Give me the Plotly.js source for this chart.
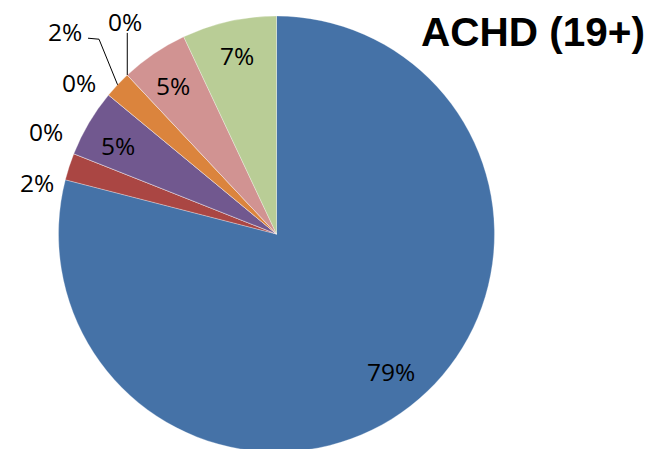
<!DOCTYPE html>
<html>
<head>
<meta charset="utf-8">
<script src="https://cdn.plot.ly/plotly-3.0.1.min.js"></script>
<style>
  html, body { margin: 0; padding: 0; overflow: hidden; background: #fff; }
  #chart { width: 657px; height: 470px; }
</style>
</head>
<body>
<div id="chart"></div>
<script>
// Share of patients per group, clockwise from 12 o'clock
const categories = ['Group 1', 'Group 2', 'Group 3', 'Group 4', 'Group 5',
                    'Group 6', 'Group 7', 'Group 8', 'Group 9'];
const shares = [79, 2, 0, 5, 0, 2, 0, 5, 7];
const sliceColors = ['#4572A7', '#AA4643', '#89A54E', '#71588F', '#4198AF',
                     '#DB843D', '#93A9CF', '#D19392', '#B9CD96'];
const chartTitle = 'ACHD (19+)';

// Page and pie geometry (pixels)
const W = 657, H = 470;
const CX = 276.5, CY = 234, R = 218;

// Where each percentage label sits: radius as a fraction of the pie radius,
// angular nudge in degrees from the slice's middle, optional leader line
const labelPlacement = [
  { r: 0.82,  dA: -2 },
  { r: 1.124, dA: -5.8 },
  { r: 1.156, dA: 2.5 },
  { r: 0.835, dA: -1.4 },
  { r: 1.142, dA: -2 },
  { r: 1.344, dA: 0.6, leader: 'elbow' },
  { r: 1.195, dA: 7.7, leader: 'drop' },
  { r: 0.83,  dA: -0.6 },
  { r: 0.84,  dA: 0.3 }
];

const total = shares.reduce((a, b) => a + b, 0);
const labelTexts = shares.map(v => Math.round(v / total * 100) + '%');

// clockwise angle from 12 o'clock -> pixel position
function polar(deg, frac) {
  const t = deg * Math.PI / 180;
  return [CX + R * frac * Math.sin(t), CY - R * frac * Math.cos(t)];
}
function px(x) { return x / W; }
function py(y) { return (H - y) / H; }

const annotations = [];
const shapes = [];
let cum = 0;
shares.forEach((v, i) => {
  const start = cum / total * 360;
  const mid = start + v / total * 180;
  cum += v;
  const p = labelPlacement[i];
  const [lx, ly] = polar(mid + p.dA, p.r);
  annotations.push({
    x: px(lx), y: py(ly), xref: 'paper', yref: 'paper',
    xanchor: 'center', yanchor: 'middle',
    text: labelTexts[i], showarrow: false,
    font: { family: 'Open Sans, sans-serif', size: 24.5, color: '#000' }
  });
  if (p.leader) {
    const [ex, ey] = polar(mid, 1.0);
    let pts;
    if (p.leader === 'elbow') {
      pts = [[ex, ey], [lx + 34, ly + 8], [lx + 23, ly + 7]];
    } else {
      pts = [[ex, ey], [ex, ly + 11]];
    }
    const path = pts.map((q, k) => (k ? 'L' : 'M') + px(q[0]) + ',' + py(q[1])).join(' ');
    shapes.push({
      type: 'path', xref: 'paper', yref: 'paper', path: path,
      line: { color: '#000', width: 1 }
    });
  }
});

const trace = {
  type: 'pie',
  labels: categories,
  values: shares,
  sort: false,
  direction: 'clockwise',
  rotation: 0,
  textinfo: 'none',
  hoverinfo: 'label+percent',
  marker: { colors: sliceColors, line: { color: 'rgba(255,255,255,0.6)', width: 0.5 } },
  domain: {
    x: [(CX - R) / W, (CX + R) / W],
    y: [(H - (CY + R)) / H, (H - (CY - R)) / H]
  },
  showlegend: false
};

const layout = {
  width: W, height: H,
  margin: { l: 0, r: 0, t: 0, b: 0 },
  paper_bgcolor: '#fff',
  showlegend: false,
  title: {
    text: '<b>' + chartTitle + '</b>',
    font: { family: 'Liberation Sans, Arial, sans-serif', size: 40.5, color: '#000' },
    x: 533 / W, xanchor: 'center', xref: 'paper',
    y: 1 - 31.5 / H, yanchor: 'middle', yref: 'container'
  },
  annotations: annotations,
  shapes: shapes
};

Plotly.newPlot('chart', [trace], layout, { displayModeBar: false, staticPlot: true });
</script>
</body>
</html>
